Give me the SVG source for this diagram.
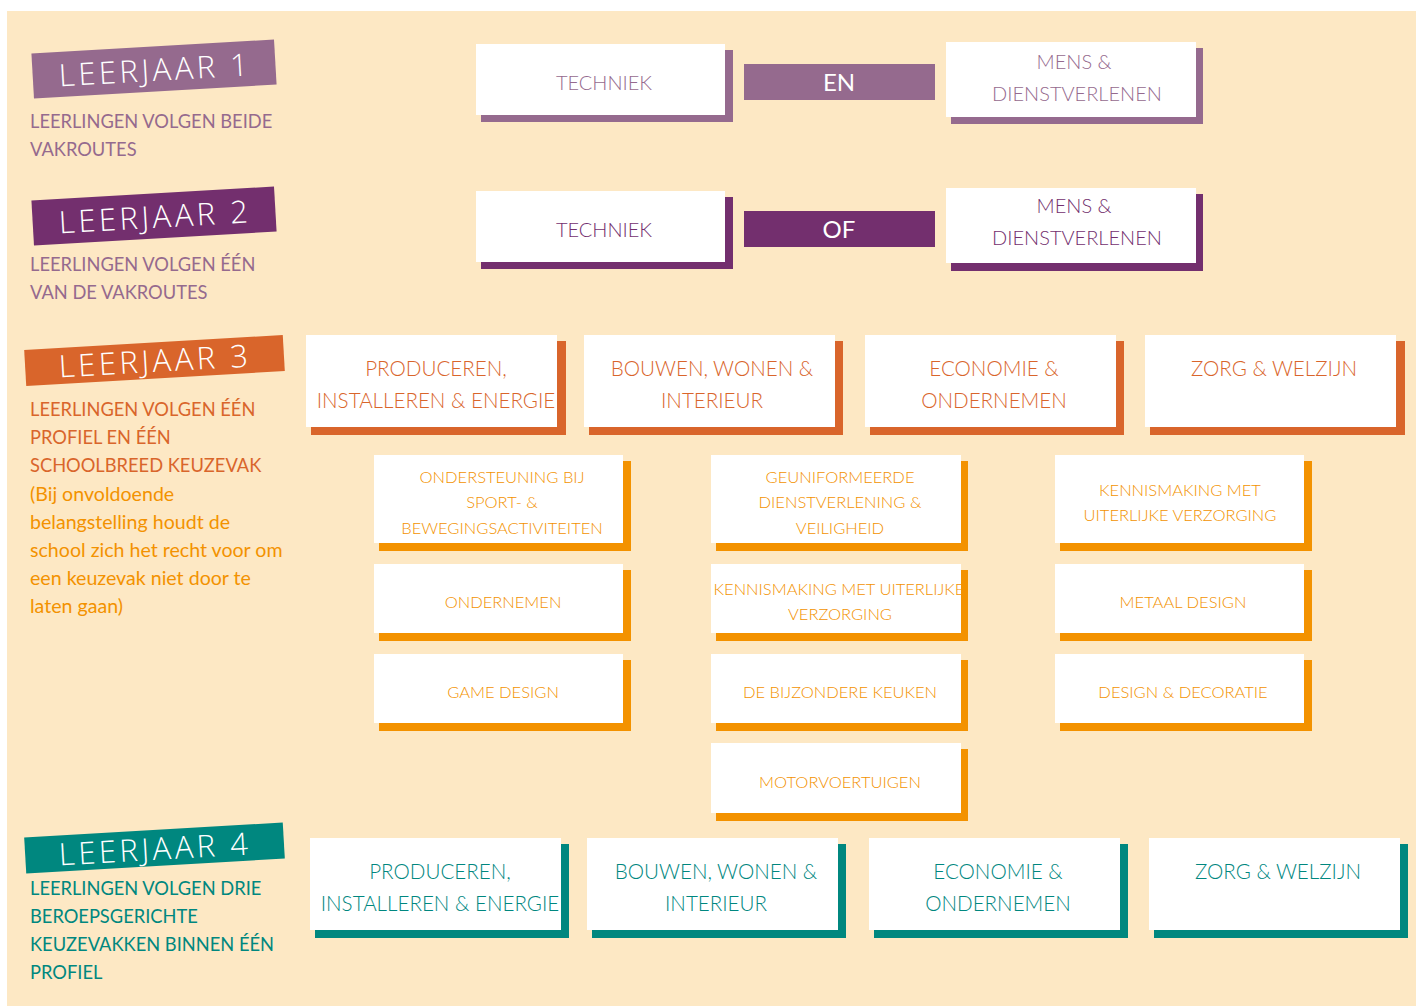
<svg xmlns="http://www.w3.org/2000/svg" width="1416" height="1007" viewBox="0 0 1416 1007">
<style>
.bg{fill:#FDE8C4}
.w{fill:#FFFFFF}
.t{font-family:Lato,"Open Sans","Liberation Sans",sans-serif;font-weight:300;text-anchor:middle;dominant-baseline:central}
.d{font-family:Lato,"Open Sans","Liberation Sans",sans-serif;font-weight:400;font-size:18.3px;dominant-baseline:central}
.lc{font-size:19.6px}
.h{font-family:"Open Sans","Liberation Sans",sans-serif;font-weight:300;font-size:31px;fill:#FFFFFF;text-anchor:middle;dominant-baseline:central;letter-spacing:3.5px}
.p1{fill:#956A8E}.p2{fill:#732F6E}.o1{fill:#D9652B}.o2{fill:#F39200}.tl{fill:#00877F}
.big{font-size:20.6px}.mid{font-size:20px}.sm{font-size:16.5px}
</style>
<rect class="bg" x="7" y="11" width="1409" height="995"/>

<g id="leerjaar1">
  <g transform="rotate(-3.3 154 69)">
    <rect class="p1" x="32.5" y="46.5" width="243" height="45"/>
    <text class="h" x="155" y="69">LEERJAAR 1</text>
  </g>
  <text class="d p1" x="30" y="121">LEERLINGEN VOLGEN BEIDE</text>
  <text class="d p1" x="30" y="149">VAKROUTES</text>
</g>
<g id="techniek1">
  <rect class="p1" x="481" y="50" width="252" height="72"/>
  <rect class="w" x="476" y="44" width="249" height="71"/>
  <text class="t mid p1" x="604" y="82">TECHNIEK</text>
</g>
<g id="en">
  <rect class="p1" x="744" y="64" width="191" height="36"/>
  <text class="t" x="839" y="81" style="font-size:24px;fill:#fff;font-weight:400">EN</text>
</g>
<g id="mens1">
  <rect class="p1" x="951" y="48" width="252" height="76"/>
  <rect class="w" x="946" y="42" width="250" height="75"/>
  <text class="t mid p1" x="1074" y="61">MENS &amp;</text>
  <text class="t mid p1" x="1077" y="93">DIENSTVERLENEN</text>
</g>

<g id="leerjaar2">
  <g transform="rotate(-3.3 154 216)">
    <rect class="p2" x="32.5" y="193.5" width="243" height="45"/>
    <text class="h" x="155" y="216">LEERJAAR 2</text>
  </g>
  <text class="d p1" x="30" y="264">LEERLINGEN VOLGEN ÉÉN</text>
  <text class="d p1" x="30" y="292">VAN DE VAKROUTES</text>
</g>
<g id="techniek2">
  <rect class="p2" x="481" y="197" width="252" height="72"/>
  <rect class="w" x="476" y="191" width="249" height="71"/>
  <text class="t mid p2" x="604" y="229">TECHNIEK</text>
</g>
<g id="of">
  <rect class="p2" x="744" y="211" width="191" height="36"/>
  <text class="t" x="839" y="228" style="font-size:24px;fill:#fff;font-weight:400">OF</text>
</g>
<g id="mens2">
  <rect class="p2" x="951" y="194" width="252" height="77"/>
  <rect class="w" x="946" y="188" width="250" height="75"/>
  <text class="t mid p2" x="1074" y="205">MENS &amp;</text>
  <text class="t mid p2" x="1077" y="237">DIENSTVERLENEN</text>
</g>

<g id="leerjaar3">
  <g transform="rotate(-3.3 154.5 360.5)">
    <rect class="o1" x="25" y="342.5" width="259" height="36"/>
    <text class="h" x="155" y="360">LEERJAAR 3</text>
  </g>
  <text class="d o1" x="30" y="409">LEERLINGEN VOLGEN ÉÉN</text>
  <text class="d o1" x="30" y="437">PROFIEL EN ÉÉN</text>
  <text class="d o1" x="30" y="465">SCHOOLBREED KEUZEVAK</text>
  <text class="d lc o2" x="30" y="493">(Bij onvoldoende</text>
  <text class="d lc o2" x="30" y="521">belangstelling houdt de</text>
  <text class="d lc o2" x="30" y="549">school zich het recht voor om</text>
  <text class="d lc o2" x="30" y="577">een keuzevak niet door te</text>
  <text class="d lc o2" x="30" y="605">laten gaan)</text>
</g>
<g id="p3-produceren">
  <rect class="o1" x="311" y="341" width="255" height="94"/>
  <rect class="w" x="306" y="335" width="251" height="92"/>
  <text class="t big o1" x="436" y="368">PRODUCEREN,</text>
  <text class="t big o1" x="436" y="400">INSTALLEREN &amp; ENERGIE</text>
</g>
<g id="p3-bouwen">
  <rect class="o1" x="589" y="341" width="254" height="94"/>
  <rect class="w" x="584" y="335" width="251" height="92"/>
  <text class="t big o1" x="712" y="368">BOUWEN, WONEN &amp;</text>
  <text class="t big o1" x="712" y="400">INTERIEUR</text>
</g>
<g id="p3-economie">
  <rect class="o1" x="870" y="341" width="254" height="94"/>
  <rect class="w" x="865" y="335" width="251" height="92"/>
  <text class="t big o1" x="994" y="368">ECONOMIE &amp;</text>
  <text class="t big o1" x="994" y="400">ONDERNEMEN</text>
</g>
<g id="p3-zorg">
  <rect class="o1" x="1150" y="341" width="255" height="94"/>
  <rect class="w" x="1145" y="335" width="251" height="92"/>
  <text class="t big o1" x="1274" y="368">ZORG &amp; WELZIJN</text>
</g>

<g id="k-ondersteuning">
  <rect class="o2" x="379" y="461" width="252" height="90"/>
  <rect class="w" x="374" y="455" width="249" height="88"/>
  <text class="t sm o2" x="502" y="477">ONDERSTEUNING BIJ</text>
  <text class="t sm o2" x="502" y="502">SPORT- &amp;</text>
  <text class="t sm o2" x="502" y="528">BEWEGINGSACTIVITEITEN</text>
</g>
<g id="k-ondernemen">
  <rect class="o2" x="379" y="570" width="252" height="71"/>
  <rect class="w" x="374" y="564" width="249" height="69"/>
  <text class="t sm o2" x="503" y="602">ONDERNEMEN</text>
</g>
<g id="k-game">
  <rect class="o2" x="379" y="660" width="252" height="71"/>
  <rect class="w" x="374" y="654" width="249" height="69"/>
  <text class="t sm o2" x="503" y="692">GAME DESIGN</text>
</g>
<g id="k-geuniformeerde">
  <rect class="o2" x="716" y="461" width="252" height="90"/>
  <rect class="w" x="711" y="455" width="250" height="88"/>
  <text class="t sm o2" x="840" y="477">GEUNIFORMEERDE</text>
  <text class="t sm o2" x="840" y="502">DIENSTVERLENING &amp;</text>
  <text class="t sm o2" x="840" y="528">VEILIGHEID</text>
</g>
<g id="k-kennismaking2">
  <rect class="o2" x="716" y="570" width="252" height="71"/>
  <rect class="w" x="711" y="564" width="250" height="69"/>
  <text class="t sm o2" x="839" y="589">KENNISMAKING MET UITERLIJKE</text>
  <text class="t sm o2" x="840" y="614">VERZORGING</text>
</g>
<g id="k-keuken">
  <rect class="o2" x="716" y="660" width="252" height="71"/>
  <rect class="w" x="711" y="654" width="250" height="69"/>
  <text class="t sm o2" x="840" y="692">DE BIJZONDERE KEUKEN</text>
</g>
<g id="k-motorvoertuigen">
  <rect class="o2" x="716" y="749" width="252" height="72"/>
  <rect class="w" x="711" y="743" width="250" height="70"/>
  <text class="t sm o2" x="840" y="782">MOTORVOERTUIGEN</text>
</g>
<g id="k-kennismaking">
  <rect class="o2" x="1060" y="461" width="252" height="90"/>
  <rect class="w" x="1055" y="455" width="249" height="88"/>
  <text class="t sm o2" x="1180" y="490">KENNISMAKING MET</text>
  <text class="t sm o2" x="1180" y="515">UITERLIJKE VERZORGING</text>
</g>
<g id="k-metaal">
  <rect class="o2" x="1060" y="570" width="252" height="71"/>
  <rect class="w" x="1055" y="564" width="249" height="69"/>
  <text class="t sm o2" x="1183" y="602">METAAL DESIGN</text>
</g>
<g id="k-decoratie">
  <rect class="o2" x="1060" y="660" width="252" height="71"/>
  <rect class="w" x="1055" y="654" width="249" height="69"/>
  <text class="t sm o2" x="1183" y="692">DESIGN &amp; DECORATIE</text>
</g>

<g id="leerjaar4">
  <g transform="rotate(-3.3 154.5 848)">
    <rect class="tl" x="25" y="830" width="259" height="36"/>
    <text class="h" x="155" y="848">LEERJAAR 4</text>
  </g>
  <text class="d tl" x="30" y="888">LEERLINGEN VOLGEN DRIE</text>
  <text class="d tl" x="30" y="916">BEROEPSGERICHTE</text>
  <text class="d tl" x="30" y="944">KEUZEVAKKEN BINNEN ÉÉN</text>
  <text class="d tl" x="30" y="972">PROFIEL</text>
</g>
<g id="p4-produceren">
  <rect class="tl" x="315" y="844" width="254" height="94"/>
  <rect class="w" x="310" y="838" width="251" height="92"/>
  <text class="t big tl" x="440" y="871">PRODUCEREN,</text>
  <text class="t big tl" x="440" y="903">INSTALLEREN &amp; ENERGIE</text>
</g>
<g id="p4-bouwen">
  <rect class="tl" x="592" y="844" width="254" height="94"/>
  <rect class="w" x="587" y="838" width="251" height="92"/>
  <text class="t big tl" x="716" y="871">BOUWEN, WONEN &amp;</text>
  <text class="t big tl" x="716" y="903">INTERIEUR</text>
</g>
<g id="p4-economie">
  <rect class="tl" x="874" y="844" width="254" height="94"/>
  <rect class="w" x="869" y="838" width="251" height="92"/>
  <text class="t big tl" x="998" y="871">ECONOMIE &amp;</text>
  <text class="t big tl" x="998" y="903">ONDERNEMEN</text>
</g>
<g id="p4-zorg">
  <rect class="tl" x="1154" y="844" width="254" height="94"/>
  <rect class="w" x="1149" y="838" width="251" height="92"/>
  <text class="t big tl" x="1278" y="871">ZORG &amp; WELZIJN</text>
</g>
</svg>
